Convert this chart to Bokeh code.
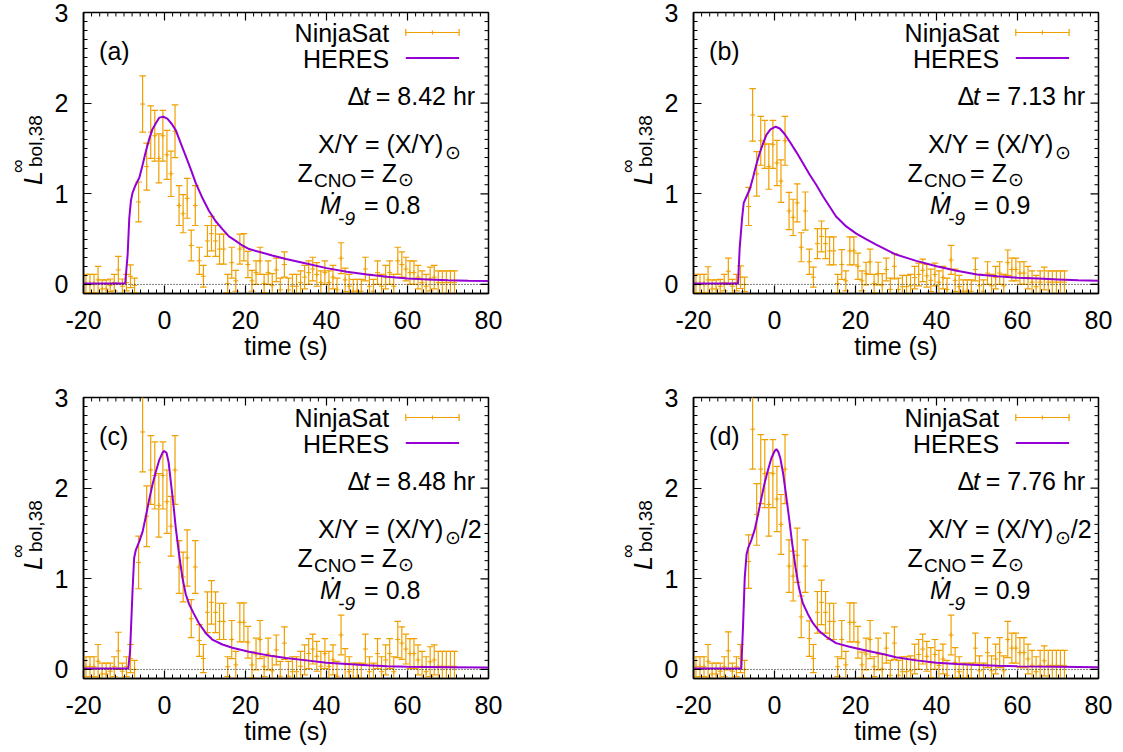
import numpy as np
from bokeh.plotting import figure
from bokeh.models import Range1d, FixedTicker, Label, Span, ColumnDataSource, Div
from bokeh.layouts import row, column
from bokeh.embed import file_html
from bokeh.resources import INLINE

FONT = "Liberation Sans"
ORANGE = "#efa000"
PURPLE = "#9400d3"

# ---------------- data ----------------
bin_start = -19.4   # first NinjaSat bin centre (s)
bin_width = 1.0     # s
n_bins = 92

# panel (a)
a_val = [0.01, 0.01, 0.01, 0.05, -0.05, -0.05, -0.01, 0.02, 0.16, -0.02, 0.02, 0.09, -0.01,
         0.91, 1.99, 1.30, 1.68, 1.64, 1.39, 1.64, 1.43, 1.22, 1.69, 0.87, 0.78, 0.95, 0.43,
         0.87, 0.26, 0.09, 0.48, 0.56, 0.48, 0.39, 0.39, 0.01, 0.24, 0.04, 0.39, 0.41, 0.22,
         0.04, 0.13, 0.26, 0.01, 0.13,
         -0.01, 0.16, -0.06, 0.22, -0.06, -0.02, -0.02, 0.02, 0.08, 0.13, 0.17, 0.11, 0.02,
         0.13, 0.02, 0.08, -0.06, 0.29, 0.05, -0.02, -0.075, -0.075, -0.075, 0.17, -0.02,
         -0.075, 0.13, -0.02, 0.08, 0.13, -0.02, 0.26, 0.22, 0.17, 0.13, 0.13, 0.08, 0.02,
         -0.02, 0.06, 0.08, 0.02, 0.02, 0.02, 0.02, 0.02]
a_err = [0.10, 0.10, 0.10, 0.15, 0.10, 0.10, 0.07, 0.09, 0.15, 0.08, 0.09, 0.125, 0.08,
         0.22, 0.31, 0.26, 0.29, 0.28, 0.27, 0.28, 0.27, 0.25, 0.29, 0.22, 0.21, 0.22, 0.17,
         0.22, 0.15, 0.12, 0.17, 0.19, 0.17, 0.165, 0.165, 0.10, 0.17, 0.115, 0.165, 0.15, 0.145,
         0.115, 0.13, 0.15, 0.10, 0.13,
         0.13, 0.13, 0.13, 0.14, 0.13, 0.13, 0.13, 0.13, 0.13, 0.13, 0.13, 0.13, 0.13,
         0.13, 0.13, 0.13, 0.13, 0.17, 0.13, 0.13, 0.13, 0.13, 0.13, 0.13, 0.13,
         0.13, 0.13, 0.13, 0.13, 0.13, 0.13, 0.15, 0.14, 0.13, 0.13, 0.13, 0.13, 0.13,
         0.13, 0.13, 0.13, 0.13, 0.13, 0.13, 0.13, 0.13]
a_model_t = [-20, -9.7, -9.1, -8.7, -8.3, -7.9, -7.1, -6.2, -5.4, -4.6, -3.8, -3.0, -2.1, -1.3,
             -0.3, 0.7, 1.8, 2.8, 4.0, 5.2, 6.5, 7.7, 9.4, 11.0, 12.6, 14.3, 15.9, 17.6, 19.2,
             20.9, 23.3, 26.6, 30, 35, 40, 45, 50, 55, 60, 65, 70, 75, 80]
a_model_L = [0.01, 0.01, 0.33, 0.73, 0.92, 1.01, 1.10, 1.18, 1.32, 1.47, 1.60, 1.71, 1.78, 1.84,
             1.85, 1.83, 1.77, 1.70, 1.56, 1.42, 1.27, 1.12, 0.95, 0.81, 0.70, 0.61, 0.53, 0.48,
             0.43, 0.39, 0.36, 0.32, 0.28, 0.23, 0.18, 0.14, 0.11, 0.085, 0.065, 0.055, 0.045,
             0.04, 0.037]

# panel (b)
b_val = [0.01, 0.01, 0.01, 0.05, -0.05, -0.05, -0.02, 0.02, 0.145, -0.02, 0.02, 0.08, 0.0,
         0.86, 1.87, 1.22, 1.585, 1.545, 1.30, 1.545, 1.34, 1.14, 1.585, 0.81, 0.74, 0.90, 0.41,
         0.81, 0.25, 0.08, 0.45, 0.53, 0.45, 0.37, 0.37, 0.01, 0.22, 0.04, 0.37, 0.37, 0.20,
         0.04, 0.12, 0.25, 0.01, 0.12,
         -0.005, 0.165, -0.055, 0.20, -0.055, -0.025, -0.025, -0.015, 0.075, 0.11, 0.155, 0.095,
         0.045, 0.11, 0.025, 0.075, -0.055, 0.27, 0.045, -0.025, -0.075, -0.075, -0.075, 0.165,
         -0.015, -0.075, 0.125, -0.015, 0.075, 0.125, -0.015, 0.24, 0.165, 0.165, 0.125, 0.125,
         0.075, 0.025, -0.025, 0.025, 0.065, 0.025, 0.025, 0.025, 0.025, 0.025]
b_err = [0.10, 0.10, 0.10, 0.145, 0.10, 0.10, 0.075, 0.09, 0.145, 0.075, 0.09, 0.125, 0.08,
         0.21, 0.29, 0.245, 0.27, 0.265, 0.25, 0.265, 0.25, 0.235, 0.27, 0.205, 0.20, 0.21, 0.16,
         0.21, 0.14, 0.11, 0.165, 0.17, 0.165, 0.155, 0.155, 0.10, 0.165, 0.11, 0.155, 0.155,
         0.145, 0.11, 0.125, 0.14, 0.10, 0.125,
         0.125, 0.125, 0.125, 0.14, 0.125, 0.125, 0.125, 0.125, 0.125, 0.125, 0.125, 0.125,
         0.125, 0.125, 0.125, 0.125, 0.125, 0.16, 0.125, 0.125, 0.125, 0.125, 0.125, 0.125,
         0.125, 0.125, 0.125, 0.125, 0.125, 0.125, 0.125, 0.14, 0.125, 0.125, 0.125, 0.125,
         0.125, 0.125, 0.125, 0.125, 0.125, 0.125, 0.125, 0.125, 0.125, 0.125]
b_model_t = [-20, -9.0, -8.6, -8.0, -7.6, -6.9, -6.1, -5.3, -4.5, -3.65, -2.8, -2.0, -1.0, 0.3,
             1.3, 2.5, 3.7, 5.4, 7.0, 8.7, 10.3, 12.0, 13.6, 15.2, 17.7, 20.2, 22.6, 25.1, 30,
             35, 40, 45, 50, 55, 60, 65, 70, 75, 80]
b_model_L = [0.01, 0.01, 0.40, 0.73, 0.90, 0.97, 1.05, 1.18, 1.32, 1.45, 1.56, 1.65, 1.71, 1.74,
             1.72, 1.66, 1.58, 1.46, 1.34, 1.21, 1.10, 0.97, 0.86, 0.75, 0.64, 0.56, 0.50, 0.44,
             0.33, 0.26, 0.20, 0.15, 0.11, 0.09, 0.075, 0.065, 0.055, 0.045, 0.04]

# panel (c)
c_val = [0.03, 0.03, 0.03, 0.09, -0.05, -0.05, -0.02, 0.03, 0.205, -0.02, 0.03, 0.12, 0.0,
         1.18, 2.62, 1.69, 2.20, 2.14, 1.81, 2.14, 1.85, 1.58, 2.20, 1.13, 1.02, 1.23, 0.56,
         1.13, 0.32, 0.12, 0.63, 0.74, 0.63, 0.53, 0.53, 0.03, 0.33, 0.05, 0.52, 0.52, 0.30,
         0.05, 0.17, 0.33, 0.03, 0.17,
         -0.015, 0.215, -0.075, 0.29, -0.075, -0.025, -0.025, 0.035, 0.105, 0.175, 0.225, 0.145,
         0.035, 0.175, 0.035, 0.105, -0.075, 0.38, 0.065, -0.025, -0.095, -0.095, -0.095, 0.225,
         -0.025, -0.095, 0.175, -0.025, 0.105, 0.175, -0.025, 0.33, 0.29, 0.225, 0.175, 0.175,
         0.105, 0.035, -0.025, 0.085, 0.105, 0.035, 0.035, 0.035, 0.035, 0.035]
c_err = [0.11, 0.11, 0.11, 0.185, 0.12, 0.12, 0.09, 0.11, 0.205, 0.09, 0.11, 0.155, 0.10,
         0.29, 0.44, 0.335, 0.38, 0.37, 0.35, 0.37, 0.35, 0.33, 0.38, 0.29, 0.275, 0.31, 0.21,
         0.29, 0.175, 0.155, 0.225, 0.24, 0.225, 0.20, 0.20, 0.11, 0.21, 0.15, 0.215, 0.215,
         0.175, 0.14, 0.175, 0.21, 0.11, 0.175,
         0.165, 0.165, 0.165, 0.18, 0.165, 0.165, 0.165, 0.165, 0.165, 0.165, 0.165, 0.165,
         0.165, 0.165, 0.165, 0.165, 0.165, 0.22, 0.165, 0.165, 0.165, 0.165, 0.165, 0.165,
         0.165, 0.165, 0.165, 0.165, 0.165, 0.165, 0.165, 0.20, 0.18, 0.165, 0.165, 0.165,
         0.165, 0.165, 0.165, 0.165, 0.165, 0.165, 0.165, 0.165, 0.165, 0.165]
c_model_t = [-20, -8.95, -8.5, -7.9, -7.5, -7.06, -6.24, -5.4, -4.6, -3.8, -2.96, -2.14, -1.3,
             -0.5, -0.09, 0.49, 1.0, 1.56, 2.13, 2.79, 3.6, 4.43, 5.25, 6.07, 7.3, 8.5, 10.2,
             11.8, 14.3, 16.75, 20.85, 26.6, 30, 35, 40, 45, 50, 55, 60, 70, 80]
c_model_L = [0.01, 0.01, 0.20, 0.86, 1.23, 1.32, 1.41, 1.52, 1.69, 1.87, 2.04, 2.18, 2.31,
             2.39, 2.41, 2.39, 2.29, 2.07, 1.85, 1.56, 1.27, 1.01, 0.83, 0.72, 0.61, 0.51, 0.40,
             0.33, 0.275, 0.24, 0.195, 0.147, 0.125, 0.10, 0.075, 0.06, 0.045, 0.035, 0.03,
             0.025, 0.02]

# panel (d)
d_val = [0.03, 0.03, 0.03, 0.09, -0.05, -0.05, -0.02, 0.03, 0.205, -0.02, 0.03, 0.12, 0.0,
         1.19, 2.65, 1.71, 2.21, 2.16, 1.82, 2.16, 1.88, 1.60, 2.21, 1.14, 1.03, 1.26, 0.58,
         1.14, 0.34, 0.12, 0.63, 0.74, 0.63, 0.53, 0.53, 0.03, 0.33, 0.05, 0.52, 0.52, 0.30,
         0.05, 0.17, 0.33, 0.03, 0.17,
         0.005, 0.235, -0.065, 0.29, -0.065, -0.025, -0.025, -0.015, 0.115, 0.165, 0.225, 0.145,
         0.075, 0.165, 0.045, 0.115, -0.065, 0.38, 0.075, -0.025, -0.095, -0.095, -0.095, 0.235,
         -0.015, -0.095, 0.185, -0.015, 0.115, 0.185, -0.015, 0.33, 0.235, 0.235, 0.185, 0.185,
         0.115, 0.045, -0.025, 0.045, 0.095, 0.045, 0.045, 0.045, 0.045, 0.045]
d_err = [0.11, 0.11, 0.11, 0.185, 0.12, 0.12, 0.09, 0.11, 0.21, 0.09, 0.11, 0.155, 0.10,
         0.295, 0.44, 0.34, 0.38, 0.375, 0.35, 0.375, 0.36, 0.33, 0.38, 0.29, 0.275, 0.30, 0.23,
         0.29, 0.195, 0.155, 0.23, 0.245, 0.23, 0.20, 0.20, 0.11, 0.21, 0.15, 0.215, 0.215,
         0.175, 0.14, 0.175, 0.21, 0.11, 0.175,
         0.165, 0.165, 0.165, 0.18, 0.165, 0.165, 0.165, 0.165, 0.165, 0.165, 0.165, 0.165,
         0.165, 0.165, 0.165, 0.165, 0.165, 0.22, 0.165, 0.165, 0.165, 0.165, 0.165, 0.165,
         0.165, 0.165, 0.165, 0.165, 0.165, 0.165, 0.165, 0.20, 0.165, 0.165, 0.165, 0.165,
         0.165, 0.165, 0.165, 0.165, 0.165, 0.165, 0.165, 0.165, 0.165, 0.165]
d_model_t = [-20, -8.2, -7.75, -7.35, -6.9, -6.5, -5.7, -4.9, -4.06, -3.24, -2.42, -1.6, -0.78,
             0.05, 0.46, 0.95, 1.44, 2.1, 2.75, 3.6, 4.4, 5.2, 6.04, 7.0, 8.26, 9.5, 11.1, 12.8,
             15.2, 18.5, 22.6, 26.7, 30, 35, 40, 45, 50, 55, 60, 70, 80]
d_model_L = [0.01, 0.01, 0.50, 1.01, 1.27, 1.34, 1.43, 1.54, 1.71, 1.89, 2.06, 2.20, 2.33,
             2.41, 2.43, 2.40, 2.33, 2.17, 1.96, 1.67, 1.38, 1.12, 0.90, 0.73, 0.61, 0.51, 0.42,
             0.36, 0.29, 0.25, 0.21, 0.17, 0.135, 0.10, 0.075, 0.06, 0.05, 0.04, 0.035, 0.03,
             0.025]

panel_tags = ["(a)", "(b)", "(c)", "(d)"]
delta_t_hr = ["8.42", "7.13", "8.48", "7.76"]
xy_suffix = ["", "", "/2", "/2"]
mdot_values = ["0.8", "0.9", "0.8", "0.9"]
legend_labels = ["NinjaSat", "HERES"]
x_title = "time (s)"
# y title  L^inf_{bol,38}: (text, font px, italic)
y_title_parts = [("L", 25, True), ("∞", 19, False), ("bol,38", 19, False)]

x_major = [-20, 0, 20, 40, 60, 80]
x_minor = list(range(-20, 81, 2))
y_major = [0, 1, 2, 3]
y_minor = [round(0.1 * i, 1) for i in range(-1, 31)]

# ---------------- layout geometry ----------------
FRAME_W, FRAME_H = 405, 281
X0, X1, Y0, Y1 = -20.0, 80.0, -0.1, 3.0
LABEL_W = 50          # width of the strip that carries the rotated y title
BORDER_L = 33
BORDER_T = 12
MAJOR_TICK, MINOR_TICK = 8, 4   # px, ticks point into the frame
# where each y-title piece sits in its strip: (left of rotated box, bottom start), px
Y_TITLE_POS = [(20.5, 185.0), (8.0, 173.0), (26.1, 167.0)]

KX = (X1 - X0) / FRAME_W   # data units per pixel
KY = (Y1 - Y0) / FRAME_H


def X(dx):  # pixel offset from frame left -> data x
    return X0 + dx * KX


def Y(dy):  # pixel offset from frame top -> data y
    return Y1 - dy * KY


def style_axis(ax):
    ax.axis_line_color = "black"
    ax.axis_line_width = 1.5
    ax.major_tick_in = MAJOR_TICK
    ax.major_tick_out = 0
    ax.minor_tick_in = MINOR_TICK
    ax.minor_tick_out = 0
    ax.major_tick_line_color = "black"
    ax.minor_tick_line_color = "black"
    ax.major_tick_line_width = 1.2
    ax.minor_tick_line_width = 1
    ax.major_label_text_font = FONT
    ax.major_label_text_font_size = "25px"
    ax.major_label_text_color = "black"


def txt(p, dx, dy, text, size=25, style="normal", align="left"):
    # dy is the visual middle of the capital letters
    p.add_layout(Label(x=X(dx), y=Y(dy), text=text, text_font=FONT, text_font_size=f"{size}px",
                       text_font_style=style, text_align=align, text_baseline="middle",
                       text_color="black"))


def mirror_ticks(p):
    # gnuplot-style mirrored ticks on the top and right edges of the frame
    xmin = [x for x in x_minor if x not in x_major]
    ymin = [y for y in y_minor if y not in y_major and Y0 < y < Y1]
    for xs, ln, w in ((x_major, MAJOR_TICK, 1.2), (xmin, MINOR_TICK, 1.0)):
        p.segment(x0=xs, y0=[Y1] * len(xs), x1=xs, y1=[Y1 - ln * KY] * len(xs),
                  line_color="black", line_width=w)
    for ys, ln, w in ((y_major, MAJOR_TICK, 1.2), (ymin, MINOR_TICK, 1.0)):
        p.segment(x0=[X1] * len(ys), y0=ys, x1=[X1 - ln * KX] * len(ys), y1=ys,
                  line_color="black", line_width=w)


def make_panel(i, vals, errs, mt, mL, width, height, right_border, bottom_border):
    p = figure(width=width, height=height, x_range=Range1d(X0, X1), y_range=Range1d(Y0, Y1),
               output_backend="svg", toolbar_location=None,
               min_border_left=BORDER_L, min_border_right=right_border,
               min_border_top=BORDER_T, min_border_bottom=bottom_border)
    p.background_fill_color = "white"
    p.border_fill_color = "white"
    p.outline_line_color = "black"
    p.outline_line_width = 1.5
    p.xgrid.visible = False
    p.ygrid.visible = False

    p.xaxis.ticker = FixedTicker(ticks=x_major, minor_ticks=x_minor)
    p.yaxis.ticker = FixedTicker(ticks=y_major, minor_ticks=y_minor)
    p.xaxis.major_label_overrides = {v: str(v) for v in x_major}
    p.yaxis.major_label_overrides = {v: str(v) for v in y_major}
    for ax in p.xaxis:
        style_axis(ax)
        ax.major_label_standoff = 17
        ax.axis_label = x_title
        ax.axis_label_text_font = FONT
        ax.axis_label_text_font_size = "25px"
        ax.axis_label_text_font_style = "normal"
        ax.axis_label_text_color = "black"
        ax.axis_label_standoff = 0
    for ax in p.yaxis:
        style_axis(ax)
        ax.major_label_standoff = 15
    mirror_ticks(p)

    # NinjaSat error bars
    t = bin_start + bin_width * np.arange(n_bins)
    v = np.array(vals)
    e = np.array(errs)
    half_cap = 0.82
    src = ColumnDataSource(dict(t=t, lo=v - e, hi=v + e, v=v,
                                cl=t - half_cap, cr=t + half_cap))
    p.segment(x0="t", y0="lo", x1="t", y1="hi", source=src, line_color=ORANGE, line_width=1.2)
    p.segment(x0="cl", y0="hi", x1="cr", y1="hi", source=src, line_color=ORANGE, line_width=1.2)
    p.segment(x0="cl", y0="lo", x1="cr", y1="lo", source=src, line_color=ORANGE, line_width=1.2)
    p.scatter(x="t", y="v", source=src, marker="cross", size=5, line_color=ORANGE, line_width=1)

    p.add_layout(Span(location=0, dimension="width", line_color="black", line_width=1,
                      line_dash="1 2"))
    # HERES model
    p.line(mt, mL, line_color=PURPLE, line_width=2)

    # key (text first, sample on the right, as in the original)
    lx0, lx1 = X(322.3), X(375.6)
    ly1, ly2 = Y(20), Y(45.6)
    cap = 3.4 * KY
    p.segment(x0=[lx0, lx0, lx1, (lx0 + lx1) / 2], y0=[ly1, ly1 - cap, ly1 - cap, ly1 - 0.6 * cap],
              x1=[lx1, lx0, lx1, (lx0 + lx1) / 2], y1=[ly1, ly1 + cap, ly1 + cap, ly1 + 0.6 * cap],
              line_color=ORANGE, line_width=1.2)
    p.line([lx0, lx1], [ly2, ly2], line_color=PURPLE, line_width=2)
    txt(p, 305.6, 20.0, legend_labels[0], align="right")
    txt(p, 305.6, 46.0, legend_labels[1], align="right")

    # annotations
    txt(p, 15.6, 38.0, panel_tags[i])
    txt(p, 264.0, 83.3, "Δ")
    txt(p, 279.5, 83.3, "t", style="italic")
    txt(p, 292.3, 83.3, "= " + delta_t_hr[i] + " hr")
    txt(p, 234.6, 131.6, "X/Y = (X/Y)")
    txt(p, 361.0, 140.0, "⊙", size=19)
    if xy_suffix[i]:
        txt(p, 377.3, 131.6, xy_suffix[i])
    txt(p, 214.0, 160.8, "Z")
    txt(p, 230.6, 167.5, "CNO", size=19)
    txt(p, 276.6, 160.8, "= Z")
    txt(p, 314.5, 167.1, "⊙", size=19)
    txt(p, 236.6, 192.5, "Ṁ", style="italic")
    txt(p, 254.6, 205.8, "-9", size=19, style="italic")
    txt(p, 280.6, 192.5, "= " + mdot_values[i])
    return p


def make_ytitle(height):
    # strip left of a panel carrying the rotated title L^inf_bol,38 (real HTML text)
    spans = []
    for (s, size, italic), (left, top) in zip(y_title_parts, Y_TITLE_POS):
        spans.append(
            f'<span style="position:absolute;left:{left}px;top:{top}px;'
            f'transform-origin:0 0;transform:rotate(-90deg);white-space:nowrap;'
            f'font-size:{size}px;line-height:{size}px;'
            f'font-style:{"italic" if italic else "normal"};">{s}</span>')
    html = (f'<div style="position:relative;width:{LABEL_W}px;height:{height}px;'
            f"font-family:'{FONT}';color:black;background:white;margin:0;padding:0;\">"
            + "".join(spans) + "</div>")
    return Div(text=html, width=LABEL_W, height=height, margin=0)


TOP_H, BOT_H = 385, 367
W_LEFT = BORDER_L + FRAME_W + 122
W_RIGHT = BORDER_L + FRAME_W + 15

pa = make_panel(0, a_val, a_err, a_model_t, a_model_L, W_LEFT, TOP_H, 122, TOP_H - BORDER_T - FRAME_H)
pb = make_panel(1, b_val, b_err, b_model_t, b_model_L, W_RIGHT, TOP_H, 15, TOP_H - BORDER_T - FRAME_H)
pc = make_panel(2, c_val, c_err, c_model_t, c_model_L, W_LEFT, BOT_H, 122, BOT_H - BORDER_T - FRAME_H)
pd = make_panel(3, d_val, d_err, d_model_t, d_model_L, W_RIGHT, BOT_H, 15, BOT_H - BORDER_T - FRAME_H)

layout = column(row(make_ytitle(TOP_H), pa, make_ytitle(TOP_H), pb),
                row(make_ytitle(BOT_H), pc, make_ytitle(BOT_H), pd))
open("out.html", "w").write(file_html(layout, INLINE))
